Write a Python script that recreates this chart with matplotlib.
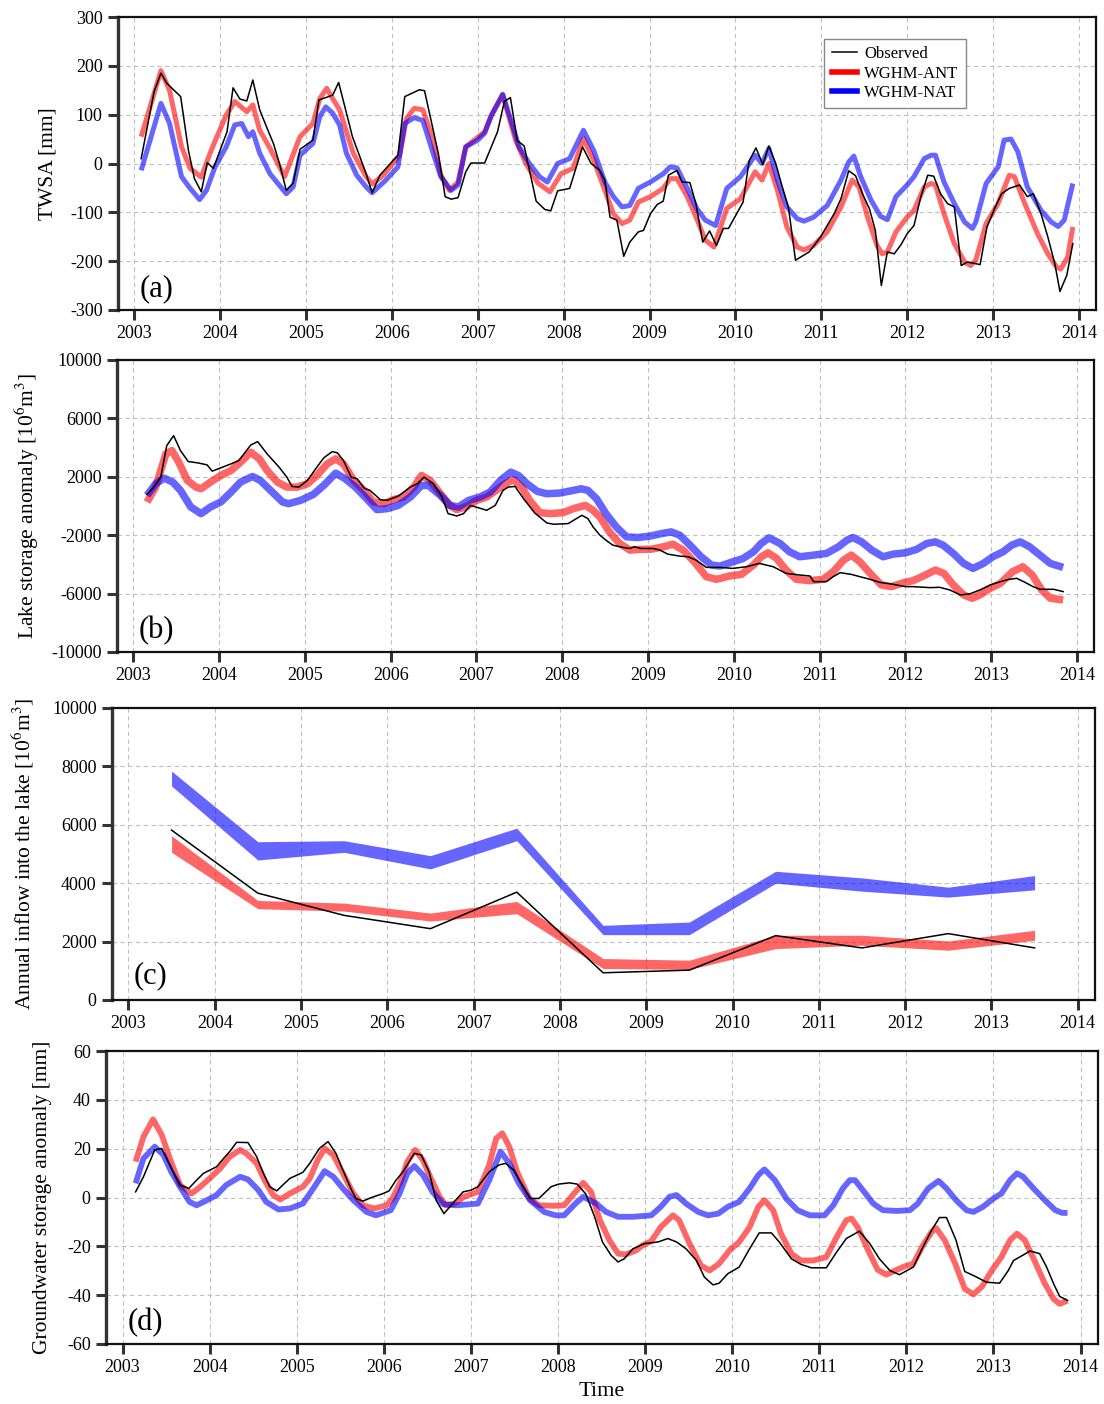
import numpy as np
import matplotlib
matplotlib.use('Agg')
import matplotlib.pyplot as plt
from matplotlib.lines import Line2D

plt.rcParams['font.family'] = ['Liberation Serif', 'DejaVu Serif']
plt.rcParams['mathtext.fontset'] = 'stix'
plt.rcParams['axes.unicode_minus'] = False

# ---------------- Panel (a): TWSA [mm] ----------------
a_obs_t = [2003.08, 2003.23, 2003.31, 2003.38, 2003.54, 2003.63, 2003.70, 2003.78, 2003.85, 2003.92,
           2004.08, 2004.15, 2004.23, 2004.31, 2004.38, 2004.46, 2004.54, 2004.62, 2004.69, 2004.77,
           2004.85, 2004.93, 2005.08, 2005.15, 2005.31, 2005.38, 2005.54, 2005.70, 2005.77, 2005.86,
           2006.07, 2006.15, 2006.32, 2006.38, 2006.54, 2006.62, 2006.69, 2006.77, 2006.86, 2006.92,
           2007.08, 2007.23, 2007.31, 2007.38, 2007.46, 2007.54, 2007.68, 2007.78, 2007.85, 2007.93,
           2008.07, 2008.22, 2008.32, 2008.42, 2008.48, 2008.54, 2008.62, 2008.70, 2008.77, 2008.87,
           2008.93, 2009.01, 2009.09, 2009.16, 2009.22, 2009.32, 2009.38, 2009.47, 2009.54, 2009.62,
           2009.70, 2009.78, 2009.86, 2009.92, 2010.09, 2010.16, 2010.24, 2010.32, 2010.39, 2010.47,
           2010.54, 2010.62, 2010.70, 2010.86, 2010.99, 2011.07, 2011.15, 2011.23, 2011.32, 2011.40,
           2011.48, 2011.56, 2011.63, 2011.70, 2011.77, 2011.85, 2011.93, 2012.00, 2012.08, 2012.16,
           2012.24, 2012.31, 2012.39, 2012.47, 2012.55, 2012.63, 2012.70, 2012.77, 2012.85, 2012.93,
           2013.02, 2013.10, 2013.19, 2013.31, 2013.40, 2013.47, 2013.56, 2013.64, 2013.72, 2013.78,
           2013.86, 2013.93]
a_obs_v = [10, 147, 185, 164, 137, 27, -31, -58, 2, -10,
           65, 155, 132, 128, 171, 110, 75, 41, 0, -55,
           -40, 29, 48, 130, 140, 166, 55, -21, -60, -24,
           17, 137, 151, 149, 21, -68, -73, -70, -17, 1,
           1, 65, 127, 135, 47, 36, -77, -94, -97, -56,
           -51, 34, 0, -14, -34, -110, -116, -190, -161, -140,
           -137, -103, -84, -77, -24, -14, -38, -39, -82, -161,
           -138, -168, -133, -133, -79, 5, 32, -2, 36, 0,
           -44, -92, -198, -181, -151, -127, -103, -72, -15, -25,
           -62, -92, -137, -250, -181, -185, -166, -144, -127, -68,
           -24, -26, -62, -82, -89, -209, -202, -204, -207, -130,
           -92, -62, -51, -44, -68, -62, -103, -151, -205, -262,
           -229, -164]

a_ant_t = [2003.08, 2003.31, 2003.41, 2003.55, 2003.65, 2003.78, 2003.88, 2003.95, 2004.07, 2004.17,
           2004.31, 2004.38, 2004.46, 2004.58, 2004.75, 2004.93, 2005.08, 2005.16, 2005.24, 2005.31,
           2005.39, 2005.55, 2005.70, 2005.77, 2005.90, 2006.09, 2006.17, 2006.26, 2006.36, 2006.48,
           2006.57, 2006.67, 2006.77, 2006.86, 2007.08, 2007.16, 2007.29, 2007.44, 2007.56, 2007.70,
           2007.84, 2007.97, 2008.11, 2008.23, 2008.35, 2008.48, 2008.58, 2008.68, 2008.77, 2008.87,
           2009.01, 2009.16, 2009.24, 2009.32, 2009.44, 2009.55, 2009.65, 2009.75, 2009.90, 2010.06,
           2010.23, 2010.31, 2010.39, 2010.49, 2010.60, 2010.72, 2010.80, 2010.91, 2011.07, 2011.23,
           2011.36, 2011.44, 2011.54, 2011.65, 2011.71, 2011.77, 2011.87, 2012.00, 2012.08, 2012.20,
           2012.28, 2012.33, 2012.43, 2012.55, 2012.67, 2012.74, 2012.80, 2012.92, 2013.06, 2013.19,
           2013.25, 2013.37, 2013.52, 2013.64, 2013.74, 2013.79, 2013.87, 2013.93]
a_ant_v = [55, 190, 150, 34, -10, -28, 20, 50, 99, 127,
           106, 120, 68, 31, -27, 55, 82, 133, 154, 133,
           110, 21, -27, -42, -24, 17, 92, 113, 110, 48,
           -24, -55, -38, 34, 65, 99, 140, 48, 0, -40,
           -58, -21, -10, 51, 7, -55, -103, -123, -116, -79,
           -68, -51, -31, -31, -68, -113, -157, -171, -92, -72,
           -17, -34, 0, -55, -130, -171, -177, -168, -140, -89,
           -34, -48, -110, -168, -185, -181, -140, -110, -96, -48,
           -41, -44, -103, -164, -202, -209, -198, -123, -82, -24,
           -27, -82, -144, -185, -212, -216, -192, -130]

a_nat_t = [2003.08, 2003.31, 2003.41, 2003.55, 2003.65, 2003.76, 2003.84, 2003.94, 2004.07, 2004.17,
           2004.25, 2004.33, 2004.38, 2004.46, 2004.58, 2004.77, 2004.85, 2004.93, 2005.08, 2005.16,
           2005.23, 2005.31, 2005.39, 2005.47, 2005.59, 2005.70, 2005.77, 2005.93, 2006.07, 2006.15,
           2006.26, 2006.36, 2006.48, 2006.57, 2006.69, 2006.77, 2006.86, 2007.00, 2007.08, 2007.16,
           2007.29, 2007.41, 2007.48, 2007.60, 2007.72, 2007.81, 2007.93, 2008.07, 2008.23, 2008.35,
           2008.48, 2008.58, 2008.68, 2008.77, 2008.87, 2009.01, 2009.16, 2009.24, 2009.32, 2009.44,
           2009.55, 2009.65, 2009.77, 2009.90, 2010.06, 2010.23, 2010.31, 2010.39, 2010.49, 2010.60,
           2010.72, 2010.80, 2010.91, 2011.07, 2011.23, 2011.32, 2011.38, 2011.46, 2011.58, 2011.69,
           2011.77, 2011.87, 2012.00, 2012.08, 2012.20, 2012.28, 2012.33, 2012.43, 2012.55, 2012.67,
           2012.76, 2012.80, 2012.92, 2013.06, 2013.13, 2013.21, 2013.29, 2013.40, 2013.56, 2013.68,
           2013.76, 2013.83, 2013.93]
a_nat_v = [-14, 123, 82, -27, -51, -74, -55, -7, 34, 79,
           82, 55, 65, 21, -21, -62, -48, 17, 41, 96,
           116, 103, 79, 21, -24, -48, -60, -34, -7, 82,
           94, 88, 21, -27, -55, -44, 34, 48, 62, 99,
           142, 75, 34, 0, -27, -38, 0, 10, 68, 27,
           -38, -68, -89, -86, -51, -38, -21, -7, -9, -51,
           -92, -116, -127, -51, -27, 17, 0, 31, -34, -89,
           -113, -118, -110, -86, -34, 3, 15, -27, -75, -108,
           -115, -68, -44, -27, 10, 17, 17, -38, -82, -120,
           -133, -120, -41, -7, 48, 50, 24, -48, -96, -120,
           -129, -116, -41]

# ---------------- Panel (b): Lake storage anomaly [10^6 m^3] ----------------
b_obs_t = [2003.16, 2003.24, 2003.32, 2003.39, 2003.47, 2003.55, 2003.64, 2003.75, 2003.86, 2003.92,
           2004.02, 2004.14, 2004.23, 2004.37, 2004.45, 2004.56, 2004.70, 2004.79, 2004.85, 2004.93,
           2005.03, 2005.14, 2005.22, 2005.32, 2005.38, 2005.45, 2005.54, 2005.61, 2005.69, 2005.76,
           2005.88, 2005.96, 2006.09, 2006.23, 2006.31, 2006.39, 2006.50, 2006.60, 2006.67, 2006.77,
           2006.85, 2006.93, 2007.02, 2007.12, 2007.22, 2007.31, 2007.37, 2007.45, 2007.55, 2007.68,
           2007.82, 2007.90, 2008.07, 2008.23, 2008.30, 2008.36, 2008.44, 2008.51, 2008.59, 2008.71,
           2008.79, 2008.84, 2008.92, 2009.06, 2009.14, 2009.23, 2009.37, 2009.47, 2009.56, 2009.68,
           2009.84, 2009.99, 2010.15, 2010.30, 2010.46, 2010.61, 2010.77, 2010.89, 2010.93, 2011.08,
           2011.16, 2011.24, 2011.37, 2011.47, 2011.59, 2011.70, 2011.86, 2012.00, 2012.09, 2012.29,
           2012.40, 2012.52, 2012.64, 2012.75, 2012.87, 2012.99, 2013.11, 2013.21, 2013.30, 2013.38,
           2013.49, 2013.57, 2013.73, 2013.84]
b_obs_v = [795, 1295, 1977, 4137, 4818, 3795, 3045, 2955, 2818, 2386,
           2614, 2886, 3114, 4182, 4409, 3568, 2659, 1977, 1340, 1295,
           1750, 2659, 3295, 3727, 3636, 3114, 1977, 1864, 1227, 1068,
           432, 386, 682, 1295, 1523, 1977, 1523, 614, -523, -682,
           -523, 45, -114, -295, 45, 1068, 1295, 1340, 500, -477,
           -1159, -1250, -1205, -636, -864, -1432, -2000, -2341, -2682, -2840,
           -2909, -2795, -2909, -2909, -3023, -3295, -3432, -3477, -3705, -4205,
           -4205, -4273, -4159, -3932, -4159, -4614, -4727, -4795, -5182, -5182,
           -4841, -4568, -4682, -4841, -5023, -5227, -5364, -5523, -5523, -5591,
           -5568, -5750, -6091, -6023, -5750, -5409, -5182, -5023, -4955, -5182,
           -5523, -5705, -5705, -5864]

b_ant_t = [2003.16, 2003.26, 2003.38, 2003.45, 2003.53, 2003.63, 2003.73, 2003.79, 2003.90, 2004.02,
           2004.14, 2004.25, 2004.37, 2004.47, 2004.56, 2004.68, 2004.79, 2004.91, 2005.03, 2005.14,
           2005.26, 2005.36, 2005.45, 2005.57, 2005.69, 2005.80, 2005.92, 2006.03, 2006.15, 2006.27,
           2006.36, 2006.46, 2006.58, 2006.69, 2006.77, 2006.89, 2007.00, 2007.12, 2007.23, 2007.33,
           2007.43, 2007.53, 2007.62, 2007.74, 2007.86, 2008.01, 2008.13, 2008.27, 2008.36, 2008.44,
           2008.55, 2008.67, 2008.79, 2008.90, 2009.04, 2009.18, 2009.29, 2009.41, 2009.54, 2009.68,
           2009.80, 2009.95, 2010.09, 2010.23, 2010.32, 2010.40, 2010.50, 2010.61, 2010.73, 2010.89,
           2011.04, 2011.16, 2011.28, 2011.37, 2011.47, 2011.59, 2011.72, 2011.84, 2011.98, 2012.09,
           2012.21, 2012.35, 2012.45, 2012.56, 2012.68, 2012.78, 2012.87, 2012.99, 2013.11, 2013.25,
           2013.37, 2013.48, 2013.59, 2013.69, 2013.84]
b_ant_v = [270, 1295, 3568, 3795, 3000, 1750, 1295, 1180, 1636, 2091,
           2432, 3000, 3682, 3227, 2432, 1636, 1295, 1295, 1523, 2091,
           2886, 3227, 2886, 1750, 1068, 273, 159, 432, 614, 1295,
           2091, 1750, 841, 45, -250, -23, 386, 614, 1068, 1523,
           1795, 1295, 386, -455, -523, -455, -182, 45, -295, -750,
           -1773, -2568, -3023, -2977, -2955, -2795, -2614, -3023, -3818, -4841,
           -5023, -4795, -4682, -4045, -3477, -3205, -3591, -4386, -5023, -5114,
           -5023, -4500, -3705, -3364, -3818, -4614, -5409, -5523, -5250, -5114,
           -4795, -4386, -4614, -5409, -6091, -6318, -6091, -5636, -5295, -4500,
           -4159, -4727, -5750, -6318, -6432]

b_nat_t = [2003.16, 2003.26, 2003.36, 2003.46, 2003.55, 2003.67, 2003.79, 2003.90, 2004.02, 2004.14,
           2004.25, 2004.39, 2004.48, 2004.60, 2004.74, 2004.81, 2004.95, 2005.10, 2005.22, 2005.36,
           2005.47, 2005.59, 2005.72, 2005.84, 2005.96, 2006.09, 2006.23, 2006.36, 2006.44, 2006.58,
           2006.69, 2006.79, 2006.91, 2007.04, 2007.16, 2007.28, 2007.40, 2007.49, 2007.59, 2007.71,
           2007.82, 2007.97, 2008.13, 2008.22, 2008.30, 2008.40, 2008.51, 2008.63, 2008.75, 2008.88,
           2009.02, 2009.16, 2009.27, 2009.37, 2009.49, 2009.62, 2009.74, 2009.84, 2009.99, 2010.11,
           2010.23, 2010.32, 2010.41, 2010.54, 2010.65, 2010.77, 2010.93, 2011.08, 2011.22, 2011.32,
           2011.39, 2011.49, 2011.61, 2011.74, 2011.86, 2012.00, 2012.13, 2012.25, 2012.35, 2012.44,
           2012.56, 2012.68, 2012.79, 2012.91, 2013.02, 2013.14, 2013.24, 2013.34, 2013.45, 2013.57,
           2013.69, 2013.84]
b_nat_v = [727, 1523, 1909, 1636, 1068, -68, -523, -68, 273, 955,
           1636, 2023, 1750, 1068, 273, 159, 386, 795, 1409, 2250,
           1864, 1295, 500, -250, -182, 45, 614, 1409, 1409, 727,
           45, -68, 386, 614, 955, 1750, 2318, 2091, 1523, 1000,
           841, 886, 1068, 1182, 1068, 500, -523, -1432, -2114, -2159,
           -2068, -1886, -1773, -2000, -2682, -3477, -4045, -4114, -3818, -3591,
           -3136, -2568, -2182, -2568, -3136, -3477, -3364, -3250, -2795, -2341,
           -2159, -2455, -3023, -3477, -3295, -3205, -2977, -2568, -2455, -2682,
           -3250, -3932, -4273, -3932, -3477, -3136, -2682, -2455, -2795, -3364,
           -3932, -4205]

# ---------------- Panel (c): Annual inflow into the lake [10^6 m^3] ----------------
c_years = [2003.5, 2004.5, 2005.5, 2006.5, 2007.5, 2008.5, 2009.5, 2010.5, 2011.5, 2012.5, 2013.5]
c_obs = [5818, 3659, 2898, 2443, 3693, 932, 1023, 2205, 1784, 2273, 1784]
c_ant_lo = [5057, 3125, 3045, 2705, 2955, 1080, 1045, 1761, 1875, 1705, 2045]
c_ant_hi = [5625, 3409, 3318, 2977, 3375, 1420, 1364, 2216, 2216, 2023, 2386]
c_nat_lo = [7330, 4795, 5057, 4489, 5455, 2238, 2238, 4000, 3727, 3523, 3773]
c_nat_hi = [7840, 5420, 5455, 4943, 5886, 2557, 2670, 4409, 4182, 3864, 4261]

# ---------------- Panel (d): Groundwater storage anomaly [mm] ----------------
d_obs_t = [2003.15, 2003.24, 2003.37, 2003.45, 2003.55, 2003.66, 2003.76, 2003.85, 2003.93, 2004.08,
           2004.16, 2004.23, 2004.31, 2004.44, 2004.54, 2004.61, 2004.69, 2004.77, 2004.84, 2004.92,
           2005.07, 2005.15, 2005.26, 2005.36, 2005.45, 2005.53, 2005.63, 2005.68, 2005.76, 2005.85,
           2005.99, 2006.06, 2006.14, 2006.22, 2006.35, 2006.43, 2006.52, 2006.60, 2006.69, 2006.79,
           2006.91, 2007.00, 2007.08, 2007.21, 2007.32, 2007.40, 2007.49, 2007.59, 2007.68, 2007.78,
           2007.92, 2008.01, 2008.13, 2008.22, 2008.32, 2008.42, 2008.51, 2008.61, 2008.69, 2008.76,
           2008.86, 2008.99, 2009.15, 2009.26, 2009.36, 2009.47, 2009.59, 2009.68, 2009.78, 2009.85,
           2009.95, 2010.08, 2010.20, 2010.31, 2010.45, 2010.54, 2010.68, 2010.79, 2010.91, 2011.08,
           2011.20, 2011.31, 2011.46, 2011.58, 2011.69, 2011.81, 2011.92, 2012.08, 2012.19, 2012.29,
           2012.38, 2012.46, 2012.57, 2012.67, 2012.79, 2012.92, 2013.07, 2013.17, 2013.23, 2013.30,
           2013.42, 2013.53, 2013.61, 2013.69, 2013.76, 2013.85]
d_obs_v = [2.3, 8.5, 19.5, 20.1, 12.6, 5.1, 3.7, 7.1, 9.9, 12.6,
           16.0, 18.8, 22.6, 22.5, 16.7, 10.5, 4.4, 2.7, 5.1, 7.8,
           10.3, 14.0, 20.1, 22.9, 18.1, 11.2, 3.0, -0.4, -1.5, -0.1,
           1.6, 2.7, 7.1, 10.5, 18.1, 17.4, 10.5, -1.1, -6.6, -2.5,
           2.3, 3.0, 4.4, 10.5, 13.3, 14.0, 11.2, 5.1, -0.4, -0.4,
           4.4, 5.5, 6.0, 5.5, 1.4, -7.9, -18.2, -23.7, -26.4, -25.1,
           -21.0, -18.9, -18.2, -16.8, -18.2, -21.0, -25.8, -32.6, -35.8, -35.1,
           -31.2, -28.5, -21.0, -14.5, -14.5, -18.2, -25.1, -27.4, -28.8, -28.8,
           -22.3, -16.8, -13.8, -18.9, -25.1, -29.9, -31.6, -28.5, -20.3, -13.4,
           -8.2, -8.2, -17.5, -30.3, -32.3, -34.7, -35.1, -29.9, -25.8, -24.4,
           -21.9, -23.0, -28.5, -35.3, -40.5, -42.2]

d_ant_t = [2003.15, 2003.24, 2003.35, 2003.45, 2003.55, 2003.66, 2003.79, 2003.87, 2004.00, 2004.12,
           2004.23, 2004.35, 2004.42, 2004.54, 2004.63, 2004.73, 2004.81, 2004.92, 2005.07, 2005.15,
           2005.24, 2005.32, 2005.42, 2005.53, 2005.65, 2005.76, 2005.89, 2006.03, 2006.10, 2006.20,
           2006.27, 2006.36, 2006.45, 2006.54, 2006.64, 2006.71, 2006.81, 2006.92, 2007.08, 2007.21,
           2007.29, 2007.36, 2007.44, 2007.53, 2007.67, 2007.78, 2007.94, 2008.07, 2008.20, 2008.29,
           2008.38, 2008.48, 2008.59, 2008.69, 2008.78, 2008.90, 2008.97, 2009.07, 2009.18, 2009.32,
           2009.39, 2009.51, 2009.64, 2009.74, 2009.85, 2009.97, 2010.08, 2010.20, 2010.30, 2010.37,
           2010.47, 2010.56, 2010.68, 2010.79, 2010.93, 2011.08, 2011.21, 2011.31, 2011.37, 2011.44,
           2011.56, 2011.67, 2011.77, 2011.87, 2011.98, 2012.08, 2012.19, 2012.29, 2012.34, 2012.44,
           2012.56, 2012.67, 2012.77, 2012.87, 2012.98, 2013.09, 2013.19, 2013.27, 2013.36, 2013.47,
           2013.59, 2013.69, 2013.76, 2013.85]
d_ant_v = [14.7, 24.9, 32.0, 25.6, 15.3, 5.1, 1.6, 3.7, 7.8, 11.9,
           16.7, 19.5, 18.1, 14.0, 7.1, 1.0, -0.8, 1.6, 4.4, 7.8,
           15.3, 20.1, 17.4, 9.9, 1.6, -3.2, -4.5, -3.2, -0.4, 7.1,
           14.7, 19.5, 15.3, 7.8, 0.3, -3.2, -2.5, 0.3, 2.3, 13.3,
           24.2, 26.3, 20.8, 10.5, -0.4, -3.2, -3.4, -3.2, 2.3, 6.0,
           2.3, -9.3, -17.5, -23.0, -23.3, -21.6, -19.6, -17.9, -12.1, -7.3,
           -9.3, -18.9, -27.8, -29.9, -27.1, -21.6, -18.2, -12.1, -3.8, -1.1,
           -5.2, -14.8, -23.0, -25.8, -25.8, -24.4, -15.5, -9.3, -8.6, -12.1,
           -21.6, -29.6, -31.6, -29.9, -28.2, -27.1, -19.6, -14.1, -12.5, -17.5,
           -27.1, -37.4, -39.7, -36.4, -29.9, -24.4, -17.5, -14.8, -17.5, -25.8,
           -35.3, -41.5, -43.6, -42.2]

d_nat_t = [2003.15, 2003.24, 2003.37, 2003.47, 2003.56, 2003.66, 2003.77, 2003.85, 2003.97, 2004.08,
           2004.19, 2004.35, 2004.44, 2004.56, 2004.65, 2004.79, 2004.92, 2005.07, 2005.19, 2005.32,
           2005.42, 2005.53, 2005.65, 2005.80, 2005.91, 2006.08, 2006.18, 2006.27, 2006.35, 2006.45,
           2006.56, 2006.68, 2006.83, 2007.08, 2007.21, 2007.34, 2007.44, 2007.55, 2007.68, 2007.84,
           2007.97, 2008.07, 2008.20, 2008.29, 2008.44, 2008.55, 2008.69, 2008.86, 2009.07, 2009.18,
           2009.28, 2009.36, 2009.47, 2009.61, 2009.72, 2009.84, 2009.95, 2010.08, 2010.20, 2010.30,
           2010.37, 2010.49, 2010.62, 2010.75, 2010.89, 2011.06, 2011.16, 2011.27, 2011.35, 2011.41,
           2011.50, 2011.62, 2011.73, 2011.89, 2012.04, 2012.13, 2012.25, 2012.37, 2012.46, 2012.57,
           2012.69, 2012.77, 2012.88, 2013.00, 2013.09, 2013.19, 2013.27, 2013.34, 2013.46, 2013.59,
           2013.71, 2013.79, 2013.85]
d_nat_v = [5.8, 16.0, 20.8, 17.4, 10.5, 4.4, -1.8, -3.2, -1.1, 1.0,
           5.1, 8.5, 7.4, 3.0, -1.8, -4.9, -4.5, -2.5, 3.7, 10.8,
           8.5, 3.7, -1.1, -5.9, -7.3, -5.2, 1.6, 9.9, 12.9, 9.2,
           2.3, -2.7, -3.2, -2.5, 7.1, 18.8, 14.0, 5.8, -1.1, -5.9,
           -7.3, -7.3, -2.5, 0.3, -2.5, -5.9, -7.9, -7.9, -7.3, -3.8,
           0.3, 1.0, -2.5, -5.9, -7.3, -6.6, -3.8, -1.8, 3.7, 9.2,
           11.5, 7.1, -0.4, -5.2, -7.3, -7.3, -3.2, 3.7, 7.1, 7.1,
           3.0, -2.5, -5.2, -5.5, -5.2, -2.5, 3.7, 6.8, 3.7, -1.1,
           -5.2, -5.9, -3.8, -0.4, 1.6, 7.1, 9.9, 8.5, 3.7, -1.1,
           -5.2, -6.3, -6.3]

year_ticks = list(range(2003, 2015))

# ---------------- Figure ----------------
fig = plt.figure(figsize=(11.04, 14.04), dpi=100)

RED = '#ff0000'
BLUE = '#0000ff'
BAND_ALPHA = 0.6

def style_axes(ax, yticks, ylim, ylabel, label_x, letter, letter_y=0.022):
    ax.set_xlim(2002.81, 2014.2)
    ax.set_ylim(*ylim)
    ax.set_xticks(year_ticks)
    ax.set_xticklabels([str(y) for y in year_ticks])
    ax.set_yticks(yticks)
    ax.grid(True, linestyle=(0, (4, 3)), color='#c0c0c0', linewidth=0.8)
    ax.set_axisbelow(True)
    ax.tick_params(axis='both', which='major', direction='out', length=7, width=2.2,
                   color='#333333', labelsize=13, pad=4, top=False, right=False)
    for side, sp in ax.spines.items():
        sp.set_color('#111111')
        sp.set_linewidth(1.6)
    ax.spines['left'].set_linewidth(2.4)
    ax.spines['left'].set_color('#333333')
    ax.set_ylabel(ylabel, fontsize=15.5)
    ax.yaxis.set_label_coords(label_x, 0.5)
    ax.text(0.022, letter_y, letter, transform=ax.transAxes, fontsize=22,
            ha='left', va='bottom')

def band_line(ax, t, v, color, lw):
    ax.plot(t, v, color=color, lw=lw, alpha=BAND_ALPHA,
            solid_capstyle='butt', solid_joinstyle='round', zorder=3)

# (a)
ax_a = fig.add_axes([118/1104, 1 - 310/1404, 978/1104, 293/1404])
band_line(ax_a, a_ant_t, a_ant_v, RED, 3.6)
band_line(ax_a, a_nat_t, a_nat_v, BLUE, 3.6)
ax_a.plot(a_obs_t, a_obs_v, color='black', lw=1.1, zorder=4)
style_axes(ax_a, list(range(-300, 301, 100)), (-300, 300), 'TWSA [mm]', -0.062, '(a)')
handles = [Line2D([0], [0], color='black', lw=1.1),
           Line2D([0], [0], color=RED, lw=4),
           Line2D([0], [0], color=BLUE, lw=4)]
leg = ax_a.legend(handles, ['Observed', 'WGHM-ANT', 'WGHM-NAT'], loc='upper left',
                  bbox_to_anchor=(0.722, 0.926), fontsize=12, frameon=True, fancybox=False,
                  framealpha=1, edgecolor='#888888', handlelength=1.5, handletextpad=0.45,
                  labelspacing=0.2, borderpad=0.45, borderaxespad=0)
leg.get_frame().set_linewidth(1.0)

# (b)
ax_b = fig.add_axes([117/1104, 1 - 652/1404, 977/1104, 292/1404])
band_line(ax_b, b_ant_t, b_ant_v, RED, 5.4)
band_line(ax_b, b_nat_t, b_nat_v, BLUE, 5.4)
ax_b.plot(b_obs_t, b_obs_v, color='black', lw=1.1, zorder=4)
style_axes(ax_b, [-10000, -6000, -2000, 2000, 6000, 10000], (-10000, 10000),
           'Lake storage anomaly [10$^{6}$m$^{3}$]', -0.078, '(b)')

# (c)
ax_c = fig.add_axes([112/1104, 1 - 1000/1404, 983/1104, 292/1404])
ax_c.fill_between(c_years, c_ant_lo, c_ant_hi, color=RED, alpha=BAND_ALPHA, lw=0, zorder=3)
ax_c.fill_between(c_years, c_nat_lo, c_nat_hi, color=BLUE, alpha=BAND_ALPHA, lw=0, zorder=3)
ax_c.plot(c_years, c_obs, color='black', lw=1.1, zorder=4)
style_axes(ax_c, list(range(0, 10001, 2000)), (0, 10000),
           'Annual inflow into the lake [10$^{6}$m$^{3}$]', -0.077, '(c)', letter_y=0.035)

# (d)
ax_d = fig.add_axes([106/1104, 1 - 1344/1404, 992/1104, 293/1404])
band_line(ax_d, d_ant_t, d_ant_v, RED, 4.2)
band_line(ax_d, d_nat_t, d_nat_v, BLUE, 4.2)
ax_d.plot(d_obs_t, d_obs_v, color='black', lw=1.1, zorder=4)
style_axes(ax_d, list(range(-60, 61, 20)), (-60, 60),
           'Groundwater storage anomaly [mm]', -0.054, '(d)')
ax_d.set_xlabel('Time', fontsize=16, labelpad=4)

fig.savefig('out.png', dpi=100)
